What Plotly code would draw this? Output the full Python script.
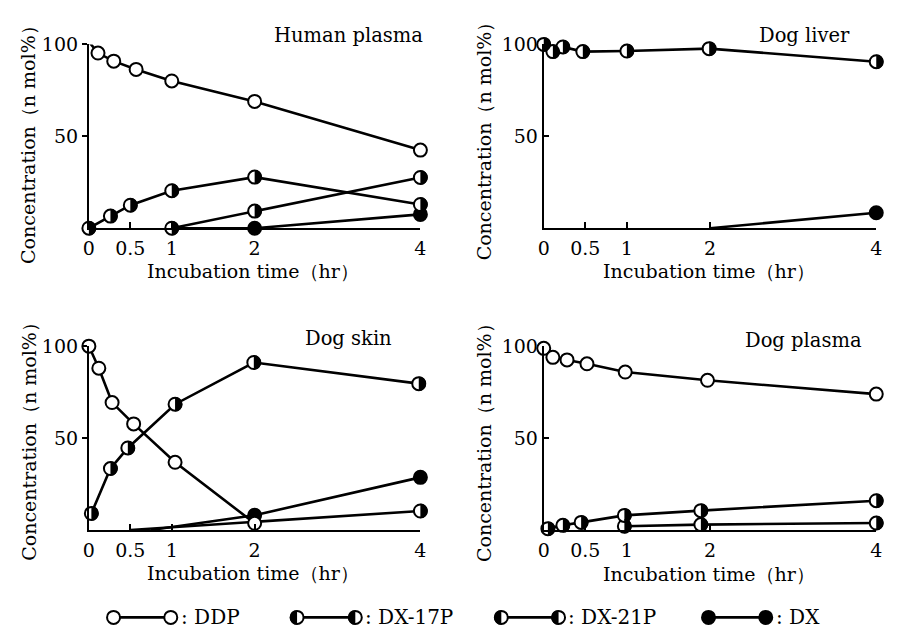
import plotly.graph_objects as go

# ---------------- data ----------------
panel_titles = ["Human plasma", "Dog liver", "Dog skin", "Dog plasma"]
series_names = ["DDP", "DX-17P", "DX-21P", "DX"]
xtick_vals = [0, 0.5, 1, 2, 4]
xtick_text = ["0", "0.5", "1", "2", "4"]
ytick_vals = [50, 100]
ytick_text = ["50", "100"]

# Human plasma
hp_ddp_t = [0, 0.11, 0.3, 0.57, 1, 2, 4]
hp_ddp_c = [101.5, 95.3, 90.9, 86.4, 80.1, 69.0, 42.5]
hp_17p_t = [0, 0.26, 0.5, 1, 2, 4]
hp_17p_c = [0, 6.6, 12.5, 20.4, 27.8, 12.9]
hp_21p_t = [1, 2, 4]
hp_21p_c = [0, 9.3, 27.6]
hp_dx_t = [1, 2, 4]
hp_dx_c = [0, 0, 7.5]

# Dog liver
dl_17p_t = [0, 0.11, 0.23, 0.47, 1.0, 1.99, 4.0]
dl_17p_c = [100, 96.1, 98.6, 96.1, 96.4, 97.7, 90.6]
dl_dx_t = [2, 4]
dl_dx_c = [0, 8.4]

# Dog skin
ds_ddp_t = [0, 0.12, 0.28, 0.54, 1.04, 2.0]
ds_ddp_c = [100, 88.0, 69.3, 57.7, 36.8, 3.6]
ds_17p_t = [0.03, 0.26, 0.47, 1.04, 1.99, 3.98]
ds_17p_c = [9.0, 33.4, 44.6, 68.4, 91.1, 79.6]
ds_21p_t = [0.5, 2, 4]
ds_21p_c = [0, 4.5, 10.3]
ds_dx_t = [0.75, 2, 4]
ds_dx_c = [0, 8.0, 28.6]

# Dog plasma
dp_ddp_t = [0, 0.11, 0.28, 0.52, 0.98, 1.97, 4.0]
dp_ddp_c = [98.8, 93.9, 92.5, 90.4, 85.9, 81.4, 73.9]
dp_17p_t = [0.05, 0.23, 0.45, 0.97, 1.89, 4.0]
dp_17p_c = [0.7, 2.5, 4.1, 7.9, 10.5, 15.9]
dp_21p_t = [0.97, 1.89, 4.0]
dp_21p_c = [2.0, 2.9, 3.75]

# points drawn without a marker (line only), by index
hidden = {
    ("Human plasma", "DX"): [0],
    ("Dog liver", "DX"): [0],
    ("Dog skin", "DX-21P"): [0, 1],
    ("Dog skin", "DX"): [0],
}

data = {
    "Human plasma": {"DDP": (hp_ddp_t, hp_ddp_c), "DX-17P": (hp_17p_t, hp_17p_c),
                     "DX-21P": (hp_21p_t, hp_21p_c), "DX": (hp_dx_t, hp_dx_c)},
    "Dog liver": {"DX-17P": (dl_17p_t, dl_17p_c), "DX": (dl_dx_t, dl_dx_c)},
    "Dog skin": {"DDP": (ds_ddp_t, ds_ddp_c), "DX-17P": (ds_17p_t, ds_17p_c),
                 "DX-21P": (ds_21p_t, ds_21p_c), "DX": (ds_dx_t, ds_dx_c)},
    "Dog plasma": {"DDP": (dp_ddp_t, dp_ddp_c), "DX-17P": (dp_17p_t, dp_17p_c),
                   "DX-21P": (dp_21p_t, dp_21p_c)},
}

# ---------------- layout constants ----------------
W, H = 901, 640
FONT = "DejaVu Serif"
XR = [0, 4]
YR = [0, 100]
cols = [(84, 420), (545, 882)]       # pixel x of t=0 and t=4
rows = [(221, 34), (528, 341)]       # pixel y of 0 and 100
MS = 13      # marker size
MLW = 2      # marker outline
LW = 2.6     # data line width
R_HALF = 7.2
K = 0.5523


def px(x):
    return x / W


def py(y):
    return 1 - y / H


def half_path(side):
    r = R_HALF * side
    k = K * R_HALF * side
    rr = R_HALF
    kk = K * R_HALF
    return (f"M0,{-rr} C{k:.2f},{-rr} {r:.2f},{-kk:.2f} {r:.2f},0 "
            f"C{r:.2f},{kk:.2f} {k:.2f},{rr} 0,{rr} Z")


fig = go.Figure()
shapes = []
annotations = []
layout_axes = {}

draw_order = ["DX", "DX-21P", "DX-17P", "DDP"]
fill_style = {"DDP": "white", "DX-17P": "white", "DX-21P": "white", "DX": "black"}
half_side = {"DX-17P": 1, "DX-21P": 1}   # right half black in the plots

for i, name in enumerate(panel_titles):
    r, c = divmod(i, 2)
    n = i + 1
    xa = "x" if n == 1 else f"x{n}"
    ya = "y" if n == 1 else f"y{n}"
    xkey = "xaxis" if n == 1 else f"xaxis{n}"
    ykey = "yaxis" if n == 1 else f"yaxis{n}"
    x0p, x1p = cols[c]
    y0p, y1p = rows[r]
    layout_axes[xkey] = dict(
        domain=[px(x0p), px(x1p)], range=XR, anchor=ya,
        tickvals=xtick_vals, ticktext=xtick_text, ticks="inside", ticklen=6,
        tickwidth=2, tickcolor="black", showline=True, linewidth=2,
        linecolor="black", showgrid=False, zeroline=False,
        tickfont=dict(family=FONT, size=19, color="black"),
        ticklabelstandoff=2, fixedrange=True)
    layout_axes[ykey] = dict(
        domain=[py(y0p), py(y1p)], range=YR, anchor=xa,
        tickvals=ytick_vals, ticktext=ytick_text,
        ticks="outside" if c == 0 else "inside", ticklen=5,
        tickwidth=2, tickcolor="black", showline=True, linewidth=2,
        linecolor="black", showgrid=False, zeroline=False,
        tickfont=dict(family=FONT, size=19, color="black"), fixedrange=True)

    series = data[name]
    # lines first
    for s in draw_order:
        if s not in series:
            continue
        t, v = series[s]
        fig.add_trace(go.Scatter(x=t, y=v, mode="lines", xaxis=xa, yaxis=ya,
                                 line=dict(color="black", width=LW),
                                 cliponaxis=False, showlegend=False,
                                 hoverinfo="skip"))
    # markers
    for s in draw_order:
        if s not in series:
            continue
        t, v = series[s]
        hid = hidden.get((name, s), [])
        mt = [a for j, a in enumerate(t) if j not in hid]
        mv = [a for j, a in enumerate(v) if j not in hid]
        fig.add_trace(go.Scatter(x=mt, y=mv, mode="markers", xaxis=xa, yaxis=ya,
                                 marker=dict(size=MS, color=fill_style[s],
                                             line=dict(color="black", width=MLW)),
                                 cliponaxis=False, showlegend=False,
                                 name=s))
        if s in half_side:
            for a, b in zip(mt, mv):
                shapes.append(dict(
                    type="path", xref=f"{xa} domain", yref=f"{ya} domain",
                    xsizemode="pixel", ysizemode="pixel",
                    xanchor=(a - XR[0]) / (XR[1] - XR[0]),
                    yanchor=(b - YR[0]) / (YR[1] - YR[0]),
                    path=half_path(half_side[s]), fillcolor="black",
                    line=dict(width=0), layer="above"))

# panel titles
title_pos = [(425, 25), (857, 25), (393, 333), (870, 335)]
for name, (tx, ty) in zip(panel_titles, title_pos):
    annotations.append(dict(text=name, x=px(tx), y=py(ty), xref="paper",
                            yref="paper", xanchor="right", yanchor="middle",
                            showarrow=False,
                            font=dict(family=FONT, size=19.5, color="black")))

# axis titles
ytitle = "Concentration（n mol%）"
xtitle = "Incubation time（hr）"
for (cx, cy) in [(22.5, 131), (484, 128), (22.5, 433), (484, 435)]:
    annotations.append(dict(text=ytitle, x=px(cx), y=py(cy), xref="paper",
                            yref="paper", xanchor="center", yanchor="middle",
                            textangle=-90, showarrow=False,
                            font=dict(family=FONT, size=19, color="black")))
for (cx, cy) in [(250, 265), (712, 265), (250, 572), (712, 573)]:
    annotations.append(dict(text=xtitle, x=px(cx), y=py(cy), xref="paper",
                            yref="paper", xanchor="center", yanchor="middle",
                            showarrow=False,
                            font=dict(family=FONT, size=19, color="black")))

# custom legend
LEG_Y = 617
leg_items = [("DDP", 109, 167), ("DX-17P", 295, 354), ("DX-21P", 502, 560),
             ("DX", 712, 770)]
leg_half = {"DX-17P": -1, "DX-21P": -1}
for s, c1, c2 in leg_items:
    shapes.append(dict(type="line", xref="paper", yref="paper",
                       x0=px(c1), x1=px(c2), y0=py(LEG_Y), y1=py(LEG_Y),
                       line=dict(color="black", width=LW), layer="above"))
    for cc in (c1, c2):
        shapes.append(dict(type="circle", xref="paper", yref="paper",
                           xsizemode="pixel", ysizemode="pixel",
                           xanchor=px(cc), yanchor=py(LEG_Y),
                           x0=-MS / 2, x1=MS / 2, y0=-MS / 2, y1=MS / 2,
                           fillcolor=fill_style[s],
                           line=dict(color="black", width=MLW), layer="above"))
        if s in leg_half:
            shapes.append(dict(type="path", xref="paper", yref="paper",
                               xsizemode="pixel", ysizemode="pixel",
                               xanchor=px(cc), yanchor=py(LEG_Y),
                               path=half_path(leg_half[s]), fillcolor="black",
                               line=dict(width=0), layer="above"))
    annotations.append(dict(text=": " + s, x=px(c2 + 8), y=py(LEG_Y),
                            xref="paper", yref="paper", xanchor="left",
                            yanchor="middle", showarrow=False,
                            font=dict(family=FONT, size=20, color="black")))

fig.update_layout(width=W, height=H, margin=dict(l=0, r=0, t=0, b=0),
                  paper_bgcolor="white", plot_bgcolor="white",
                  showlegend=False, shapes=shapes, annotations=annotations,
                  **layout_axes)

fig.write_html("out.html")
